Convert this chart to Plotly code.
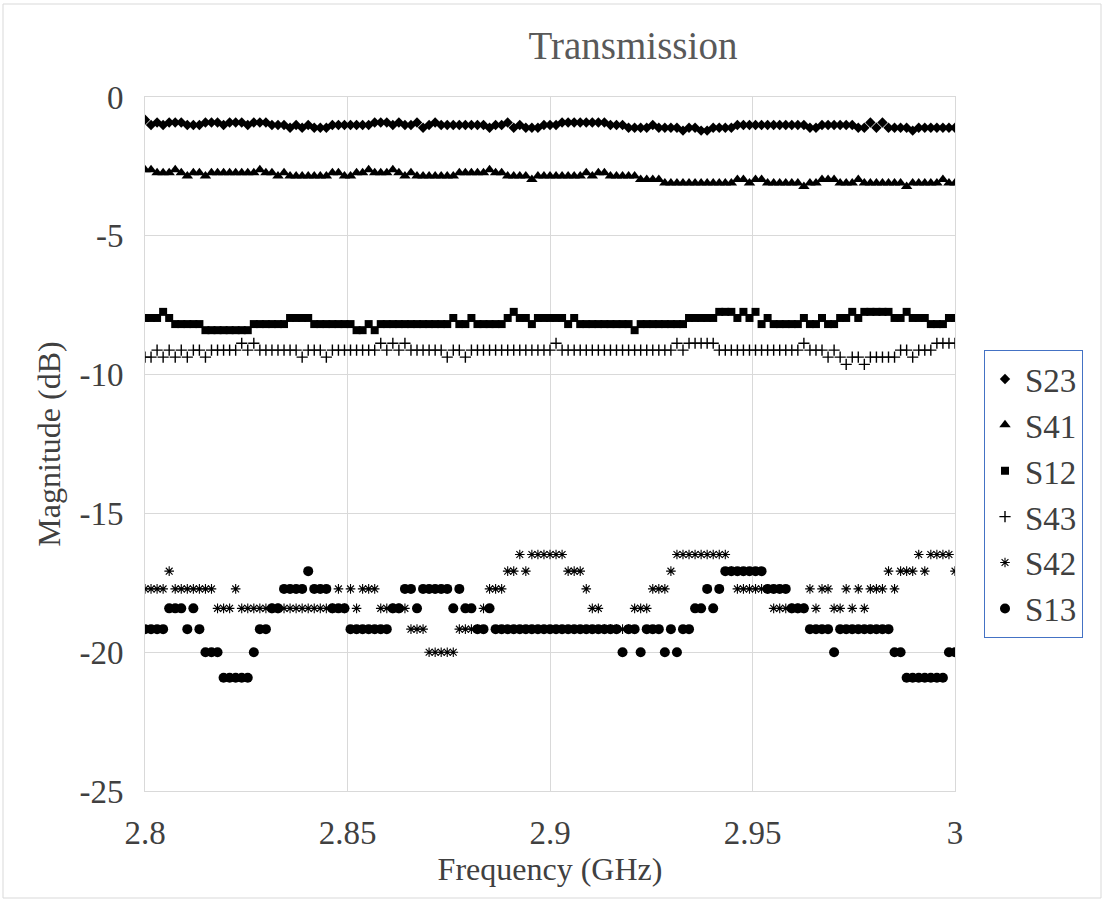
import numpy as np
import plotly.graph_objects as go

# ---- data (dB); uniform sweep 2.8 -> 3.0 GHz ----
F_START, F_STOP = 2.8, 3.0

S23 = [-0.82, -1.01, -0.92, -1.01, -0.92, -0.92, -0.92, -1.01, -1.01, -1.01,
       -0.92, -0.92, -0.92, -1.01, -0.92, -0.92, -0.92, -1.01, -0.92, -0.92,
       -0.92, -1.01, -1.01, -1.01, -1.11, -1.01, -1.11, -1.01, -1.11, -1.11,
       -1.11, -1.01, -1.01, -1.01, -1.01, -1.01, -1.01, -1.01, -0.92, -0.92,
       -0.92, -1.01, -0.92, -1.01, -1.01, -0.92, -1.11, -1.01, -0.92, -1.01,
       -1.01, -1.01, -1.01, -1.01, -1.01, -1.01, -1.01, -1.11, -1.01, -1.01,
       -0.92, -1.11, -1.01, -1.11, -1.11, -1.11, -1.01, -1.01, -1.01, -0.92,
       -0.92, -0.92, -0.92, -0.92, -0.92, -0.92, -0.92, -1.01, -1.01, -1.01,
       -1.11, -1.11, -1.11, -1.11, -1.01, -1.11, -1.11, -1.11, -1.11, -1.21,
       -1.11, -1.11, -1.21, -1.21, -1.11, -1.11, -1.11, -1.11, -1.01, -1.01,
       -1.01, -1.01, -1.01, -1.01, -1.01, -1.01, -1.01, -1.01, -1.01, -1.01,
       -1.11, -1.11, -1.01, -1.01, -1.01, -1.01, -1.01, -1.01, -1.11, -1.11,
       -0.92, -1.11, -0.92, -1.11, -1.11, -1.11, -1.11, -1.21, -1.11, -1.11,
       -1.11, -1.11, -1.11, -1.11, -1.11]

S41 = [-2.62, -2.62, -2.73, -2.73, -2.73, -2.62, -2.73, -2.85, -2.73, -2.73,
       -2.85, -2.73, -2.73, -2.73, -2.73, -2.73, -2.73, -2.73, -2.73, -2.62,
       -2.73, -2.73, -2.85, -2.73, -2.85, -2.85, -2.85, -2.85, -2.85, -2.85,
       -2.85, -2.73, -2.73, -2.85, -2.85, -2.73, -2.73, -2.62, -2.73, -2.73,
       -2.73, -2.62, -2.73, -2.85, -2.73, -2.85, -2.85, -2.85, -2.85, -2.85,
       -2.85, -2.85, -2.73, -2.73, -2.73, -2.73, -2.73, -2.62, -2.73, -2.73,
       -2.85, -2.85, -2.85, -2.85, -2.97, -2.85, -2.85, -2.85, -2.85, -2.85,
       -2.85, -2.85, -2.85, -2.73, -2.85, -2.73, -2.73, -2.85, -2.85, -2.85,
       -2.85, -2.85, -2.97, -2.97, -2.97, -2.97, -3.10, -3.10, -3.10, -3.10,
       -3.10, -3.10, -3.10, -3.10, -3.10, -3.10, -3.10, -3.10, -2.97, -2.97,
       -3.10, -2.97, -2.97, -3.10, -3.10, -3.10, -3.10, -3.10, -3.10, -3.22,
       -3.10, -3.10, -2.97, -2.97, -2.97, -3.10, -3.10, -3.10, -2.97, -3.10,
       -3.10, -3.10, -3.10, -3.10, -3.10, -3.10, -3.22, -3.10, -3.10, -3.10,
       -3.10, -3.10, -2.97, -3.10, -3.10]

S12 = [-7.96, -7.96, -7.96, -7.74, -7.96, -8.18, -8.18, -8.18, -8.18, -8.18,
       -8.40, -8.40, -8.40, -8.40, -8.40, -8.40, -8.40, -8.40, -8.18, -8.18,
       -8.18, -8.18, -8.18, -8.18, -7.96, -7.96, -7.96, -7.96, -8.18, -8.18,
       -8.18, -8.18, -8.18, -8.18, -8.18, -8.40, -8.40, -8.18, -8.40, -8.18,
       -8.18, -8.18, -8.18, -8.18, -8.18, -8.18, -8.18, -8.18, -8.18, -8.18,
       -8.18, -7.96, -8.18, -8.18, -7.96, -8.18, -8.18, -8.18, -8.18, -8.18,
       -7.96, -7.74, -7.96, -7.96, -8.18, -7.96, -7.96, -7.96, -7.96, -7.96,
       -8.18, -7.96, -8.18, -8.18, -8.18, -8.18, -8.18, -8.18, -8.18, -8.18,
       -8.18, -8.40, -8.18, -8.18, -8.18, -8.18, -8.18, -8.18, -8.18, -8.18,
       -7.96, -7.96, -7.96, -7.96, -7.96, -7.74, -7.74, -7.74, -7.96, -7.74,
       -7.96, -7.74, -8.18, -7.96, -8.18, -8.18, -8.18, -8.18, -8.18, -7.96,
       -8.18, -8.18, -7.96, -8.18, -8.18, -7.96, -7.96, -7.74, -7.96, -7.74,
       -7.74, -7.74, -7.74, -7.74, -7.96, -7.96, -7.74, -7.96, -7.96, -7.96,
       -8.18, -8.18, -8.18, -7.96, -7.96]

S43 = [-9.37, -9.37, -9.12, -9.37, -9.12, -9.37, -9.12, -9.37, -9.12, -9.12,
       -9.37, -9.12, -9.12, -9.12, -9.12, -9.12, -8.87, -9.12, -8.87, -9.12,
       -9.12, -9.12, -9.12, -9.12, -9.12, -9.12, -9.37, -9.12, -9.12, -9.12,
       -9.37, -9.12, -9.12, -9.12, -9.12, -9.12, -9.12, -9.12, -9.12, -8.87,
       -9.12, -8.87, -9.12, -8.87, -9.12, -9.12, -9.12, -9.12, -9.12, -9.12,
       -9.37, -9.12, -9.12, -9.37, -9.12, -9.12, -9.12, -9.12, -9.12, -9.12,
       -9.12, -9.12, -9.12, -9.12, -9.12, -9.12, -9.12, -9.12, -8.87, -9.12,
       -9.12, -9.12, -9.12, -9.12, -9.12, -9.12, -9.12, -9.12, -9.12, -9.12,
       -9.12, -9.12, -9.12, -9.12, -9.12, -9.12, -9.12, -9.12, -8.87, -9.12,
       -8.87, -8.87, -8.87, -8.87, -8.87, -9.12, -9.12, -9.12, -9.12, -9.12,
       -9.12, -9.12, -9.12, -9.12, -9.12, -9.12, -9.12, -9.12, -9.12, -8.87,
       -9.12, -9.12, -9.12, -9.37, -9.12, -9.37, -9.63, -9.37, -9.37, -9.63,
       -9.37, -9.37, -9.37, -9.37, -9.37, -9.12, -9.12, -9.37, -9.12, -9.12,
       -9.12, -8.87, -8.87, -8.87, -8.87]

S42 = [-17.72, -17.72, -17.72, -17.72, -17.08, -17.72, -17.72, -17.72, -17.72, -17.72,
       -17.72, -17.72, -18.42, -18.42, -18.42, -17.72, -18.42, -18.42, -18.42, -18.42,
       -18.42, -18.42, -18.42, -18.42, -18.42, -18.42, -18.42, -18.42, -18.42, -18.42,
       -18.42, -18.42, -17.72, -18.42, -17.72, -18.42, -17.72, -17.72, -17.72, -18.42,
       -18.42, -18.42, -18.42, -18.42, -19.17, -19.17, -19.17, -20.00, -20.00, -20.00,
       -20.00, -20.00, -19.17, -19.17, -19.17, -19.17, -18.42, -17.72, -17.72, -17.72,
       -17.08, -17.08, -16.48, -17.08, -16.48, -16.48, -16.48, -16.48, -16.48, -16.48,
       -17.08, -17.08, -17.08, -17.72, -18.42, -18.42, -19.17, -19.17, -19.17, -19.17,
       -19.17, -18.42, -18.42, -18.42, -17.72, -17.72, -17.72, -17.08, -16.48, -16.48,
       -16.48, -16.48, -16.48, -16.48, -16.48, -16.48, -16.48, -17.08, -17.72, -17.72,
       -17.72, -17.72, -17.72, -17.72, -18.42, -18.42, -18.42, -18.42, -18.42, -18.42,
       -17.72, -18.42, -17.72, -17.72, -18.42, -18.42, -17.72, -18.42, -17.72, -18.42,
       -17.72, -17.72, -17.72, -17.08, -17.72, -17.08, -17.08, -17.08, -16.48, -17.08,
       -16.48, -16.48, -16.48, -16.48, -17.08]

S13 = [-19.17, -19.17, -19.17, -19.17, -18.42, -18.42, -18.42, -19.17, -18.42, -19.17,
       -20.00, -20.00, -20.00, -20.92, -20.92, -20.92, -20.92, -20.92, -20.00, -19.17,
       -19.17, -18.42, -18.42, -17.72, -17.72, -17.72, -17.72, -17.08, -17.72, -17.72,
       -17.72, -18.42, -18.42, -18.42, -19.17, -19.17, -19.17, -19.17, -19.17, -19.17,
       -19.17, -18.42, -18.42, -17.72, -17.72, -18.42, -17.72, -17.72, -17.72, -17.72,
       -17.72, -18.42, -17.72, -18.42, -18.42, -19.17, -19.17, -18.42, -19.17, -19.17,
       -19.17, -19.17, -19.17, -19.17, -19.17, -19.17, -19.17, -19.17, -19.17, -19.17,
       -19.17, -19.17, -19.17, -19.17, -19.17, -19.17, -19.17, -19.17, -19.17, -20.00,
       -19.17, -19.17, -20.00, -19.17, -19.17, -19.17, -20.00, -19.17, -20.00, -19.17,
       -19.17, -18.42, -18.42, -17.72, -18.42, -17.72, -17.08, -17.08, -17.08, -17.08,
       -17.08, -17.08, -17.08, -17.72, -17.72, -17.72, -17.72, -18.42, -18.42, -18.42,
       -19.17, -19.17, -19.17, -19.17, -20.00, -19.17, -19.17, -19.17, -19.17, -19.17,
       -19.17, -19.17, -19.17, -19.17, -20.00, -20.00, -20.92, -20.92, -20.92, -20.92,
       -20.92, -20.92, -20.92, -20.00, -20.00]

SERIES_NAMES = ["S23", "S41", "S12", "S43", "S42", "S13"]
SERIES_VALUES = [S23, S41, S12, S43, S42, S13]

X_TICKS = [2.8, 2.85, 2.9, 2.95, 3.0]
X_TICK_TEXT = ["2.8", "2.85", "2.9", "2.95", "3"]
Y_TICKS = [-25, -20, -15, -10, -5, 0]
Y_TICK_TEXT = ["-25", "-20", "-15", "-10", "-5", "0"]

# ---- styles ----
SYMBOLS = {
    "S23": dict(symbol="diamond", size=8, color="black"),
    "S41": dict(symbol="triangle-up", size=10, color="black"),
    "S12": dict(symbol="square", size=8, color="black"),
    "S43": dict(symbol="cross-thin-open", size=8, color="black",
                line=dict(color="black", width=1.4)),
    "S42": dict(symbol="asterisk-open", size=8, color="black",
                line=dict(color="black", width=1.1)),
    "S13": dict(symbol="circle", size=10, color="black"),
}

FONT = "Liberation Serif"
TXT = "#404040"

fig = go.Figure()
for name, vals in zip(SERIES_NAMES, SERIES_VALUES):
    freq = np.linspace(F_START, F_STOP, len(vals))
    fig.add_trace(go.Scatter(x=freq, y=vals, mode="markers", name=name,
                             marker=SYMBOLS[name]))

# plot area in pixels: left 145, right 955, top 97, bottom 791
L, R, T, B = 145, 955, 97, 791
W, H = 1104, 901

def px_x(p):
    return (p - L) / (R - L)

def px_y(p):
    return (B - p) / (B - T)

fig.update_layout(
    width=W, height=H,
    margin=dict(l=L, r=W - R, t=T, b=H - B),
    paper_bgcolor="white", plot_bgcolor="white",
    font=dict(family=FONT, color=TXT),
    title=dict(text="Transmission", x=633 / W, xanchor="center", xref="container",
               y=1 - 45 / H, yanchor="middle", yref="container",
               font=dict(family=FONT, size=39, color="#595959")),
    xaxis=dict(range=[F_START, F_STOP], tickvals=X_TICKS, ticktext=X_TICK_TEXT,
               showgrid=True, gridcolor="#d9d9d9", gridwidth=1, zeroline=False,
               showline=True, linecolor="#d9d9d9", mirror=True,
               ticks="", ticklabelstandoff=12,
               tickfont=dict(family=FONT, size=33, color=TXT),
               title=dict(text="Frequency (GHz)", standoff=4,
                          font=dict(family=FONT, size=32, color=TXT))),
    yaxis=dict(range=[-25, 0], tickvals=Y_TICKS, ticktext=Y_TICK_TEXT,
               showgrid=True, gridcolor="#d9d9d9", gridwidth=1, zeroline=False,
               showline=True, linecolor="#d9d9d9", mirror=True,
               ticks="", ticklabelstandoff=14,
               tickfont=dict(family=FONT, size=33, color=TXT),
               title=dict(text="Magnitude (dB)", standoff=9,
                          font=dict(family=FONT, size=32, color=TXT))),
    legend=dict(x=px_x(984), y=px_y(350), xanchor="left", yanchor="top",
                bordercolor="#4472C4", borderwidth=1, bgcolor="white",
                font=dict(family=FONT, size=33, color=TXT),
                itemwidth=30, tracegroupgap=0),
    showlegend=True,
)

# light outer chart border
fig.add_shape(type="rect", xref="paper", yref="paper",
              x0=px_x(3), x1=px_x(W - 3), y0=px_y(H - 3), y1=px_y(4),
              line=dict(color="#d9d9d9", width=1), fillcolor="rgba(0,0,0,0)",
              layer="below")

fig.write_html("out.html")
